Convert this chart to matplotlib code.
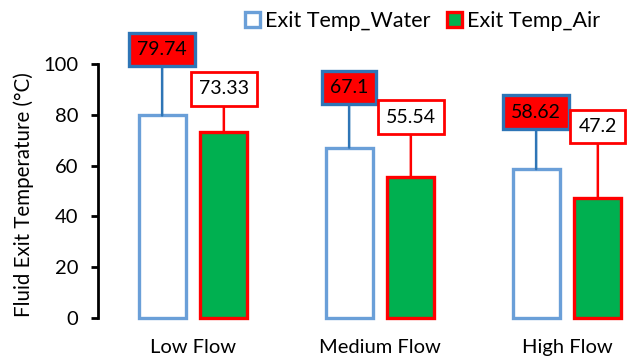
import matplotlib
matplotlib.use("Agg")
import matplotlib.pyplot as plt
from matplotlib.patches import Patch
import numpy as np

plt.rcParams['font.family'] = ['Lato', 'DejaVu Sans']

# Data
categories = ["Low Flow", "Medium Flow", "High Flow"]
water_temp = [79.74, 67.1, 58.62]
air_temp = [73.33, 55.54, 47.2]
y_ticks = [0, 20, 40, 60, 80, 100]

# Callout placement (height of the label box centre, in °C)
water_label_y = [105.7, 90.7, 81.1]
air_label_y = [90.2, 79.1, 75.4]

WATER_EDGE = "#6A9FD8"
WATER_CALLOUT = "#2E75B6"
AIR_EDGE = "#FF0000"
AIR_FILL = "#00B050"

fig = plt.figure(figsize=(6.3, 3.59), dpi=100)
ax = fig.add_axes([98 / 630, 41 / 359, 1 - 98 / 630, 1 - 41 / 359])

x = np.arange(len(categories))
width = 0.25
offset = 0.165

ax.bar(x - offset, water_temp, width, facecolor="white", edgecolor=WATER_EDGE,
       linewidth=2.4, label="Exit Temp_Water", clip_on=False)
ax.bar(x + offset, air_temp, width, facecolor=AIR_FILL, edgecolor=AIR_EDGE,
       linewidth=2.4, label="Exit Temp_Air", clip_on=False)

# Value callouts with leader lines
for xi, v, ly in zip(x - offset, water_temp, water_label_y):
    ax.annotate(f"{v:g}", xy=(xi, v), xytext=(xi, ly), ha="center", va="center",
                fontsize=14, color="black",
                bbox=dict(boxstyle="square,pad=0.42", facecolor="#FF0000",
                          edgecolor=WATER_CALLOUT, linewidth=2.4),
                arrowprops=dict(arrowstyle="-", color=WATER_CALLOUT, linewidth=1.8,
                                shrinkA=0, shrinkB=0))
for xi, v, ly in zip(x + offset, air_temp, air_label_y):
    ax.annotate(f"{v:g}", xy=(xi, v), xytext=(xi, ly), ha="center", va="center",
                fontsize=14, color="black",
                bbox=dict(boxstyle="square,pad=0.42", facecolor="white",
                          edgecolor=AIR_EDGE, linewidth=2.0),
                arrowprops=dict(arrowstyle="-", color=AIR_EDGE, linewidth=1.8,
                                shrinkA=0, shrinkB=0))

ax.set_xlim(-0.508, 2.337)
ax.set_ylim(0, 318 / 2.54)
ax.set_yticks(y_ticks)
ax.set_yticklabels([str(t) for t in y_ticks], fontsize=14.5)
ax.set_xticks(x)
ax.set_xticklabels(categories, fontsize=14.5)
ax.tick_params(axis="x", length=0, pad=15)
ax.tick_params(axis="y", direction="out", length=5, width=2, pad=9)

for side in ("top", "right", "bottom"):
    ax.spines[side].set_visible(False)
ax.spines["left"].set_linewidth(2)
ax.spines["left"].set_bounds(0, 100)

ax.set_ylabel("Fluid Exit Temperature (°C)", fontsize=14.8)
ax.yaxis.set_label_coords(-0.12, 0.388)

handles = [Patch(facecolor="white", edgecolor=WATER_EDGE, linewidth=2.4),
           Patch(facecolor=AIR_FILL, edgecolor=AIR_EDGE, linewidth=2.4)]
fig.legend(handles, ["Exit Temp_Water", "Exit Temp_Air"], loc="center",
           bbox_to_anchor=(0.6706, 0.941), ncol=2, frameon=False, fontsize=15.5,
           handlelength=0.7, handleheight=0.7, handletextpad=0.2,
           columnspacing=0.8)

fig.savefig("out.png", dpi=100)
